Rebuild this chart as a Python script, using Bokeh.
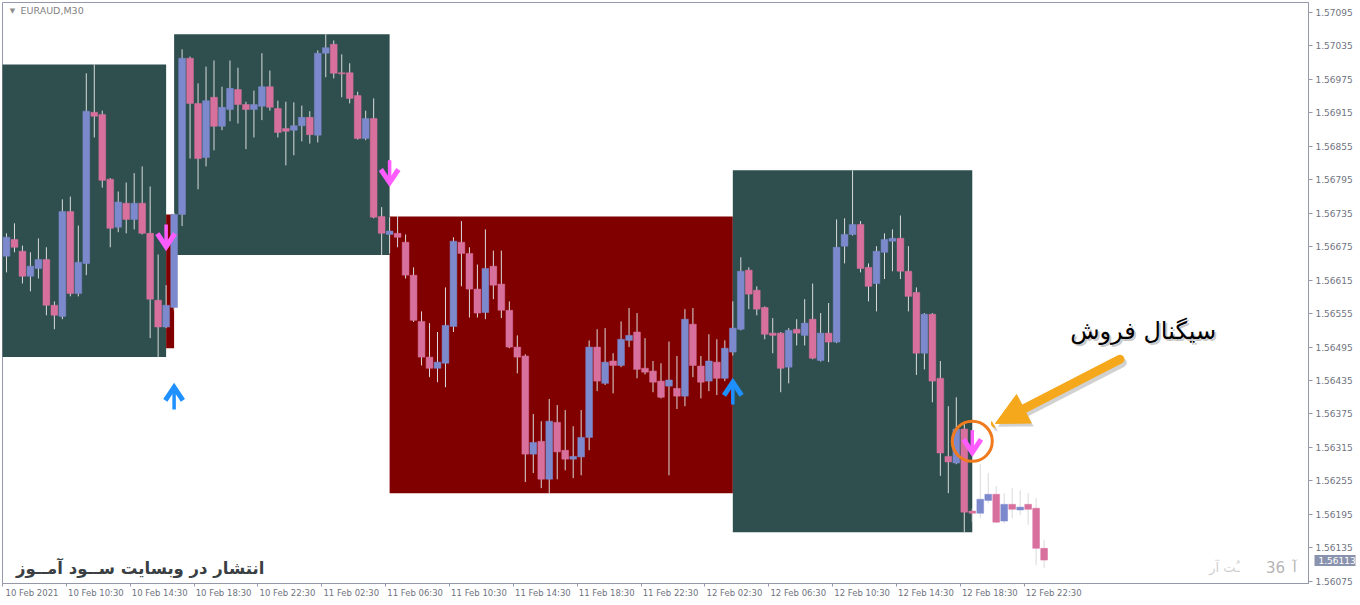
from bokeh.plotting import figure
from bokeh.models import (FixedTicker, PrintfTickFormatter, Label, Arrow, NormalHead,
                          Range1d, ColumnDataSource, LinearAxis)
from bokeh.embed import file_html
from bokeh.resources import INLINE

# ---------------- data (EURAUD M30) ----------------
bar_index = list(range(131))
opens = [1.56658, 1.56688, 1.56667, 1.56622, 1.56636, 1.56652, 1.56570, 1.56550, 1.56738, 1.56591,
         1.56645, 1.56916, 1.56912, 1.56796, 1.56710, 1.56753, 1.56724, 1.56753, 1.56699, 1.56579,
         1.56531, 1.56566, 1.56733, 1.57013, 1.56932, 1.56835, 1.56943, 1.56891, 1.56921, 1.56957,
         1.56930, 1.56921, 1.56927, 1.56962, 1.56923, 1.56887, 1.56884, 1.56892, 1.56907, 1.56875,
         1.57022, 1.57038, 1.56987, 1.56987, 1.56946, 1.56869, 1.56905, 1.56729, 1.56697, 1.56699,
         1.56683, 1.56624, 1.56541, 1.56477, 1.56457, 1.56466, 1.56532, 1.56683, 1.56663, 1.56599,
         1.56557, 1.56640, 1.56608, 1.56561, 1.56495, 1.56479, 1.56303, 1.56326, 1.56258, 1.56360,
         1.56310, 1.56294, 1.56298, 1.56333, 1.56495, 1.56430, 1.56470, 1.56462, 1.56507, 1.56522,
         1.56457, 1.56452, 1.56434, 1.56425, 1.56421, 1.56407, 1.56536, 1.56461, 1.56434, 1.56468,
         1.56439, 1.56486, 1.56527, 1.56633, 1.56597, 1.56566, 1.56520, 1.56520, 1.56459, 1.56527,
         1.56516, 1.56545, 1.56471, 1.56520, 1.56504, 1.56676, 1.56697, 1.56715, 1.56638, 1.56609,
         1.56665, 1.56685, 1.56690, 1.56631, 1.56593, 1.56484, 1.56554, 1.56439, 1.56299, 1.56287,
         1.56348, 1.56201, 1.56197, 1.56220, 1.56231, 1.56183, 1.56213, 1.56203, 1.56213, 1.56206,
         1.56134]
highs = [1.56699, 1.56717, 1.56677, 1.56665, 1.56690, 1.56674, 1.56577, 1.56760, 1.56765, 1.56713,
         1.56986, 1.57002, 1.56919, 1.56798, 1.56774, 1.56790, 1.56807, 1.56819, 1.56783, 1.56661,
         1.56606, 1.56736, 1.57029, 1.57016, 1.56968, 1.56998, 1.57009, 1.56962, 1.57009, 1.56996,
         1.56935, 1.56955, 1.57022, 1.56991, 1.56937, 1.56935, 1.56934, 1.56928, 1.56918, 1.57027,
         1.57056, 1.57045, 1.57020, 1.57004, 1.56953, 1.56919, 1.56941, 1.56746, 1.56728, 1.56731,
         1.56697, 1.56638, 1.56559, 1.56538, 1.56522, 1.56602, 1.56692, 1.56721, 1.56674, 1.56643,
         1.56706, 1.56668, 1.56668, 1.56577, 1.56516, 1.56482, 1.56375, 1.56362, 1.56402, 1.56391,
         1.56382, 1.56353, 1.56382, 1.56507, 1.56527, 1.56529, 1.56484, 1.56541, 1.56565, 1.56556,
         1.56511, 1.56470, 1.56466, 1.56505, 1.56479, 1.56563, 1.56565, 1.56479, 1.56518, 1.56509,
         1.56507, 1.56577, 1.56656, 1.56638, 1.56604, 1.56568, 1.56547, 1.56522, 1.56529, 1.56545,
         1.56581, 1.56609, 1.56556, 1.56574, 1.56724, 1.56726, 1.56812, 1.56721, 1.56645, 1.56676,
         1.56699, 1.56706, 1.56731, 1.56676, 1.56602, 1.56556, 1.56556, 1.56470, 1.56389, 1.56405,
         1.56359, 1.56206, 1.56285, 1.56269, 1.56246, 1.56233, 1.56242, 1.56238, 1.56233, 1.56224,
         1.56149]
lows = [1.56629, 1.56665, 1.56609, 1.56595, 1.56618, 1.56552, 1.56527, 1.56545, 1.56586, 1.56586,
        1.56624, 1.56871, 1.56781, 1.56674, 1.56701, 1.56699, 1.56706, 1.56697, 1.56511, 1.56477,
        1.56529, 1.56561, 1.56712, 1.56833, 1.56778, 1.56819, 1.56848, 1.56884, 1.56900, 1.56896,
        1.56850, 1.56871, 1.56902, 1.56919, 1.56871, 1.56821, 1.56839, 1.56864, 1.56860, 1.56862,
        1.56979, 1.56977, 1.56943, 1.56932, 1.56867, 1.56866, 1.56726, 1.56660, 1.56663, 1.56674,
        1.56618, 1.56540, 1.56462, 1.56441, 1.56432, 1.56423, 1.56522, 1.56604, 1.56548, 1.56548,
        1.56545, 1.56581, 1.56547, 1.56493, 1.56448, 1.56253, 1.56269, 1.56242, 1.56233, 1.56258,
        1.56274, 1.56260, 1.56265, 1.56310, 1.56416, 1.56427, 1.56412, 1.56459, 1.56495, 1.56439,
        1.56446, 1.56414, 1.56403, 1.56265, 1.56384, 1.56389, 1.56441, 1.56403, 1.56416, 1.56409,
        1.56434, 1.56480, 1.56525, 1.56563, 1.56552, 1.56509, 1.56484, 1.56414, 1.56430, 1.56498,
        1.56498, 1.56473, 1.56469, 1.56468, 1.56502, 1.56645, 1.56695, 1.56629, 1.56577, 1.56559,
        1.56617, 1.56631, 1.56617, 1.56559, 1.56445, 1.56455, 1.56396, 1.56264, 1.56233, 1.56285,
        1.56163, 1.56181, 1.56188, 1.56215, 1.56179, 1.56179, 1.56188, 1.56194, 1.56176, 1.56104,
        1.56099]
closes = [1.56692, 1.56674, 1.56622, 1.56640, 1.56652, 1.56570, 1.56552, 1.56738, 1.56591, 1.56647,
          1.56918, 1.56909, 1.56794, 1.56708, 1.56755, 1.56724, 1.56753, 1.56699, 1.56581, 1.56531,
          1.56570, 1.56733, 1.57013, 1.56932, 1.56833, 1.56937, 1.56891, 1.56925, 1.56959, 1.56930,
          1.56921, 1.56930, 1.56962, 1.56925, 1.56880, 1.56882, 1.56892, 1.56907, 1.56876, 1.57022,
          1.57032, 1.56986, 1.56985, 1.56941, 1.56869, 1.56905, 1.56728, 1.56699, 1.56703, 1.56692,
          1.56624, 1.56543, 1.56477, 1.56457, 1.56468, 1.56534, 1.56685, 1.56663, 1.56599, 1.56556,
          1.56636, 1.56606, 1.56561, 1.56495, 1.56477, 1.56303, 1.56324, 1.56258, 1.56362, 1.56307,
          1.56294, 1.56299, 1.56333, 1.56495, 1.56434, 1.56468, 1.56462, 1.56509, 1.56516, 1.56455,
          1.56450, 1.56432, 1.56405, 1.56436, 1.56407, 1.56545, 1.56462, 1.56432, 1.56470, 1.56439,
          1.56493, 1.56529, 1.56631, 1.56590, 1.56563, 1.56518, 1.56516, 1.56457, 1.56525, 1.56520,
          1.56538, 1.56475, 1.56520, 1.56504, 1.56674, 1.56697, 1.56715, 1.56636, 1.56604, 1.56667,
          1.56688, 1.56690, 1.56631, 1.56586, 1.56484, 1.56554, 1.56434, 1.56305, 1.56289, 1.56348,
          1.56199, 1.56197, 1.56222, 1.56231, 1.56181, 1.56213, 1.56204, 1.56208, 1.56204, 1.56134,
          1.56113]

# session boxes
box_left = [-1, 20, 21, 48, 91]
box_right = [20, 21, 48, 91, 121]
box_top = [1.57002, 1.56733, 1.57056, 1.56729, 1.56812]
box_bottom = [1.56477, 1.56493, 1.56660, 1.56233, 1.56163]
box_color = ["#2F4F4F", "#800000", "#2F4F4F", "#800000", "#2F4F4F"]

# signals
sell_index = [20, 48, 121]
sell_price = [1.56695, 1.56810, 1.56326]
buy_index = [21, 91]
buy_price = [1.56403, 1.56412]

# axis ticks
x_tick_bars = [0, 8, 16, 24, 32, 40, 48, 56, 64, 72, 80, 88, 96, 104, 112, 120, 128]
x_tick_labels = ["10 Feb 2021", "10 Feb 10:30", "10 Feb 14:30", "10 Feb 18:30", "10 Feb 22:30",
                 "11 Feb 02:30", "11 Feb 06:30", "11 Feb 10:30", "11 Feb 14:30", "11 Feb 18:30",
                 "11 Feb 22:30", "12 Feb 02:30", "12 Feb 06:30", "12 Feb 10:30", "12 Feb 14:30",
                 "12 Feb 18:30", "12 Feb 22:30"]
y_ticks = [1.56075, 1.56135, 1.56195, 1.56255, 1.56315, 1.56375, 1.56435, 1.56495, 1.56555,
           1.56615, 1.56675, 1.56735, 1.56795, 1.56855, 1.56915, 1.56975, 1.57035, 1.57095]
last_price = 1.56113

# ---------------- styling constants ----------------
BULL = "#7D89CD"
BEAR = "#D8709E"
WICK = "#DADADA"
SELL_C = "#FF5CFF"
BUY_C = "#1E90FF"
AXIS_C = "#9598A8"
LBL_C = "#6F7380"
TAG_C = "#8A93AD"
X_START, X_END = -0.5, 163.125
Y_START, Y_END = 1.56071, 1.57113

p = figure(width=1358, height=603, output_backend="svg", toolbar_location=None,
           x_range=Range1d(X_START, X_END), y_range=Range1d(Y_START, Y_END),
           y_axis_location="right", min_border_left=2, min_border_top=2,
           min_border_right=47, min_border_bottom=20,
           background_fill_color="white", border_fill_color="white")
p.grid.visible = False
p.outline_line_color = AXIS_C

# boxes
p.quad(left=box_left, right=box_right, top=box_top, bottom=box_bottom,
       fill_color=box_color, line_color=None)

# candles
src = ColumnDataSource(dict(
    x=bar_index, o=opens, h=highs, l=lows, c=closes,
    top=[max(a, b) for a, b in zip(opens, closes)],
    bot=[min(a, b) for a, b in zip(opens, closes)],
    col=[BULL if c >= o else BEAR for o, c in zip(opens, closes)],
))
p.segment(x0="x", x1="x", y0="l", y1="h", source=src, line_color=WICK, line_width=1)
p.vbar(x="x", width=0.85, top="top", bottom="bot", source=src,
       fill_color="col", line_color="col", line_width=0.5)

# signal arrows (thick MT4 style)
HALF = 0.0002     # half arrow height in price
ARM_V = 0.000235  # chevron arm vertical extent
ARM_H = 1.1       # chevron arm half-width in bars

def arrow_paths(idx, prices, down):
    stems_x, stems_y, heads_x, heads_y = [], [], [], []
    for i, pr in zip(idx, prices):
        if down:
            top, tip = pr + HALF, pr - HALF
            arm = tip + ARM_V
        else:
            top, tip = pr - HALF, pr + HALF
            arm = tip - ARM_V
        stems_x.append([i, i]); stems_y.append([top, tip])
        heads_x.append([i - ARM_H, i, i + ARM_H]); heads_y.append([arm, tip, arm])
    return stems_x, stems_y, heads_x, heads_y

for idx, prs, down, colr in [(sell_index, sell_price, True, SELL_C),
                             (buy_index, buy_price, False, BUY_C)]:
    sx, sy, hx, hy = arrow_paths(idx, prs, down)
    p.multi_line(sx, sy, line_color=colr, line_width=3.5)
    p.multi_line(hx, hy, line_color=colr, line_width=5, line_join="miter")

# highlight circle on last sell signal
p.scatter(x=[sell_index[-1]], y=[sell_price[-1]], marker="circle", size=40,
          fill_color=None, line_color="#EF7B1E", line_width=3)

# annotation arrow + text
arr_x0, arr_y0, arr_x1, arr_y1 = 139.5, 1.56473, 123.9, 1.56358
p.add_layout(Arrow(x_start=arr_x0 + 0.3, y_start=arr_y0 - 0.00006,
                   x_end=arr_x1 + 0.3, y_end=arr_y1 - 0.00006,
                   line_color="#7A7A7A", line_alpha=0.35, line_width=9, line_cap="round",
                   end=NormalHead(size=32, fill_color="#7A7A7A", fill_alpha=0.35,
                                  line_color=None)))
p.add_layout(Arrow(x_start=arr_x0, y_start=arr_y0, x_end=arr_x1, y_end=arr_y1,
                   line_color="#F5A81C", line_width=9, line_cap="round",
                   end=NormalHead(size=32, fill_color="#F5A81C", line_color="#F5A81C")))

sig_x, sig_y = 142.4, 1.56523
p.add_layout(Label(x=sig_x, y=sig_y, x_offset=2, y_offset=-2, text="سیگنال فروش",
                   text_align="center", text_baseline="middle", text_font="DejaVu Sans",
                   text_font_size="24px", text_color="#888888", text_alpha=0.45))
p.add_layout(Label(x=sig_x, y=sig_y, text="سیگنال فروش",
                   text_align="center", text_baseline="middle", text_font="DejaVu Sans",
                   text_font_size="24px", text_color="#000000"))

# watermark / titles
p.add_layout(Label(x=16.75, y=1.56098, text="انتشار در وبسایت ســود آمــوز",
                   text_align="center", text_baseline="middle", text_font="DejaVu Sans",
                   text_font_style="bold", text_font_size="16.5px", text_color="#3A3F44"))
p.add_layout(Label(x=0.75, y=1.57098, text="▼", text_align="center", text_baseline="middle",
                   text_font="DejaVu Sans", text_font_size="7px", text_color="#8C8C8C"))
p.add_layout(Label(x=1.75, y=1.57098, text="EURAUD,M30", text_align="left",
                   text_baseline="middle", text_font="DejaVu Sans", text_font_size="9.5px",
                   text_color="#7F7F7F"))
p.add_layout(Label(x=159.0, y=1.56100, text="36", text_align="center", text_baseline="middle",
                   text_font="DejaVu Sans", text_font_size="15px", text_color="#B5B5B5"))
p.add_layout(Label(x=161.4, y=1.56100, text="آ", text_align="center", text_baseline="middle",
                   text_font="DejaVu Sans", text_font_size="14px", text_color="#B5B5B5"))
p.add_layout(Label(x=152.6, y=1.56100, text="ـُت آر", text_align="center",
                   text_baseline="middle", text_font="DejaVu Sans", text_font_size="13px",
                   text_color="#D0D0D0"))

# x axis: labels left-aligned after tick marks (MT4 style)
tick_marks = [b - 0.5 for b in x_tick_bars]
label_pos = [b + 3.2 for b in x_tick_bars]
xa = p.xaxis[0]
xa.ticker = FixedTicker(ticks=label_pos, minor_ticks=tick_marks)
xa.major_label_overrides = {pos: lbl for pos, lbl in zip(label_pos, x_tick_labels)}
xa.major_tick_line_color = None
xa.major_tick_out = 0
xa.major_tick_in = 0
xa.minor_tick_out = 3
xa.minor_tick_in = 0
xa.minor_tick_line_color = AXIS_C
xa.axis_line_color = AXIS_C
xa.major_label_standoff = 1
xa.major_label_text_font = "DejaVu Sans"
xa.major_label_text_font_size = "8.5px"
xa.major_label_text_color = LBL_C

# y (price) axis
ya = p.yaxis[0]
ya.ticker = FixedTicker(ticks=y_ticks)
ya.formatter = PrintfTickFormatter(format="%.5f")
ya.major_tick_out = 4
ya.major_tick_in = 0
ya.major_tick_line_color = AXIS_C
ya.minor_tick_line_color = None
ya.axis_line_color = AXIS_C
ya.major_label_standoff = 3
ya.major_label_text_font = "DejaVu Sans"
ya.major_label_text_font_size = "9px"
ya.major_label_text_color = LBL_C

# current-price tag: an extra side axis stacked after the price scale; its inward
# tick forms the tag background and its label is pulled back over the price scale
tag_axis = LinearAxis(ticker=FixedTicker(ticks=[last_price]),
                      axis_line_color=None, minor_tick_line_color=None,
                      major_tick_in=41, major_tick_out=0, major_tick_line_width=11,
                      major_tick_line_color=TAG_C,
                      major_label_standoff=-37, major_label_text_color="white",
                      major_label_text_font="DejaVu Sans", major_label_text_font_size="9px",
                      formatter=PrintfTickFormatter(format="%.5f"))
p.add_layout(tag_axis, "right")

open("out.html", "w").write(file_html(p, INLINE))
